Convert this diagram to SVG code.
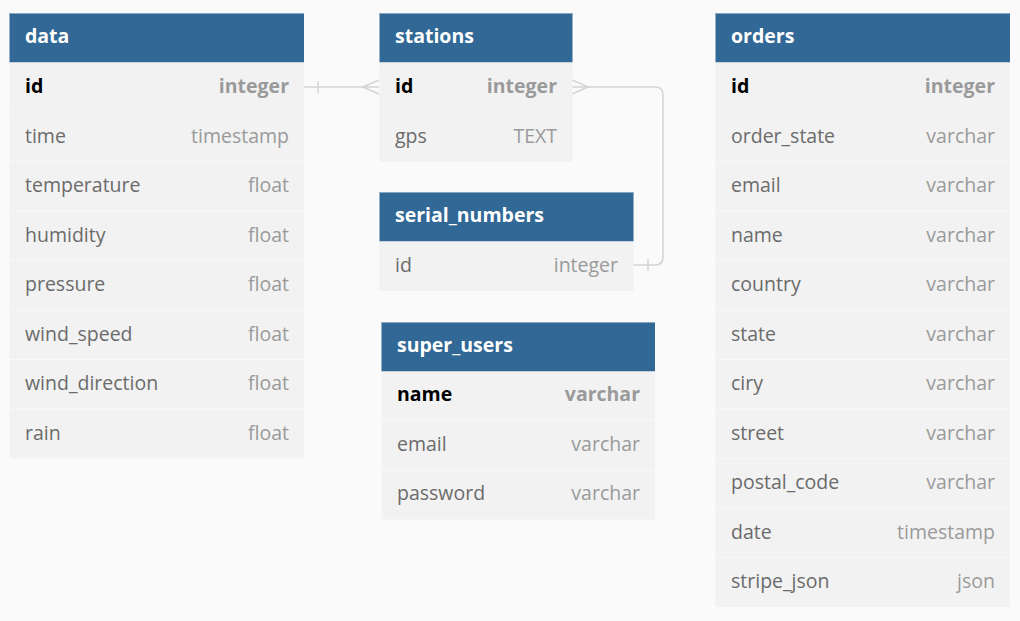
<svg xmlns="http://www.w3.org/2000/svg" width="1020" height="621" viewBox="0 0 1020 621">
<style>
.bg{fill:#fafafa}
.hd{fill:#316896}
.hl{stroke:#86a6c3;stroke-width:1}
.row{fill:#f2f2f2}
.sep{stroke:#f8f8f8;stroke-width:1}
.t{font-family:"Open Sans","Noto Sans","DejaVu Sans",sans-serif;font-size:19.5px}
.ht{fill:#ffffff;font-weight:bold}
.n{fill:#6b6b6b}
.nk{fill:#000000;font-weight:bold}
.ty{fill:#9a9a9a;text-anchor:end}
.tk{fill:#9a9a9a;font-weight:bold;text-anchor:end}
.c{fill:none;stroke:#d4d4d4;stroke-width:1.5}
</style>
<rect class="bg" x="0" y="0" width="1020" height="621"/>
<g id="connectors">
<path class="c" d="M304,87 L379,87"/>
<path class="c" d="M318,81 L318,93"/>
<path class="c" d="M379,80 L363,87 L379,94"/>
<path class="c" d="M572,87 L655,87 Q663,87 663,95 L663,257 Q663,265 655,265 L633,265"/>
<path class="c" d="M572,80 L588,87 L572,94"/>
<path class="c" d="M648,259 L648,271"/>
</g>
<g id="data" class="t">
<rect class="hd" x="9.5" y="13" width="294.5" height="49.5"/>
<line class="hl" x1="9.5" y1="13.5" x2="304" y2="13.5"/>
<text class="ht" x="25" y="43">data</text>
<rect class="row" x="9.5" y="62.5" width="294.5" height="396"/>
<line class="sep" x1="9.5" y1="112" x2="304" y2="112"/>
<line class="sep" x1="9.5" y1="161.5" x2="304" y2="161.5"/>
<line class="sep" x1="9.5" y1="211" x2="304" y2="211"/>
<line class="sep" x1="9.5" y1="260.5" x2="304" y2="260.5"/>
<line class="sep" x1="9.5" y1="310" x2="304" y2="310"/>
<line class="sep" x1="9.5" y1="359.5" x2="304" y2="359.5"/>
<line class="sep" x1="9.5" y1="409" x2="304" y2="409"/>
<text class="nk" x="25" y="93">id</text><text class="tk" x="289" y="93">integer</text>
<text class="n" x="25" y="142.5">time</text><text class="ty" x="289" y="142.5">timestamp</text>
<text class="n" x="25" y="192">temperature</text><text class="ty" x="289" y="192">float</text>
<text class="n" x="25" y="241.5">humidity</text><text class="ty" x="289" y="241.5">float</text>
<text class="n" x="25" y="291">pressure</text><text class="ty" x="289" y="291">float</text>
<text class="n" x="25" y="340.5">wind_speed</text><text class="ty" x="289" y="340.5">float</text>
<text class="n" x="25" y="390">wind_direction</text><text class="ty" x="289" y="390">float</text>
<text class="n" x="25" y="439.5">rain</text><text class="ty" x="289" y="439.5">float</text>
</g>
<g id="stations" class="t">
<rect class="hd" x="379.5" y="13" width="193" height="49.5"/>
<line class="hl" x1="379.5" y1="13.5" x2="572.5" y2="13.5"/>
<text class="ht" x="395" y="43">stations</text>
<rect class="row" x="379.5" y="62.5" width="193" height="99"/>
<line class="sep" x1="379.5" y1="112" x2="572.5" y2="112"/>
<text class="nk" x="395" y="93">id</text><text class="tk" x="557" y="93">integer</text>
<text class="n" x="395" y="142.5">gps</text><text class="ty" x="557" y="142.5">TEXT</text>
</g>
<g id="serial_numbers" class="t">
<rect class="hd" x="379.5" y="192" width="254" height="49.5"/>
<line class="hl" x1="379.5" y1="192.5" x2="633.5" y2="192.5"/>
<text class="ht" x="395" y="222">serial_numbers</text>
<rect class="row" x="379.5" y="241.5" width="254" height="49.5"/>
<text class="n" x="395" y="272">id</text><text class="ty" x="618" y="272">integer</text>
</g>
<g id="super_users" class="t">
<rect class="hd" x="381.5" y="322" width="273.5" height="49.5"/>
<line class="hl" x1="381.5" y1="322.5" x2="655" y2="322.5"/>
<text class="ht" x="397" y="352">super_users</text>
<rect class="row" x="381.5" y="371.5" width="273.5" height="148"/>
<line class="sep" x1="381.5" y1="420.5" x2="655" y2="420.5"/>
<line class="sep" x1="381.5" y1="470" x2="655" y2="470"/>
<text class="nk" x="397" y="400.5">name</text><text class="tk" x="640" y="400.5">varchar</text>
<text class="n" x="397" y="450.5">email</text><text class="ty" x="640" y="450.5">varchar</text>
<text class="n" x="397" y="499.5">password</text><text class="ty" x="640" y="499.5">varchar</text>
</g>
<g id="orders" class="t">
<rect class="hd" x="715.5" y="13" width="294.5" height="49.5"/>
<line class="hl" x1="715.5" y1="13.5" x2="1010" y2="13.5"/>
<text class="ht" x="731" y="43">orders</text>
<rect class="row" x="715.5" y="62.5" width="294.5" height="544.5"/>
<line class="sep" x1="715.5" y1="112" x2="1010" y2="112"/>
<line class="sep" x1="715.5" y1="161.5" x2="1010" y2="161.5"/>
<line class="sep" x1="715.5" y1="211" x2="1010" y2="211"/>
<line class="sep" x1="715.5" y1="260.5" x2="1010" y2="260.5"/>
<line class="sep" x1="715.5" y1="310" x2="1010" y2="310"/>
<line class="sep" x1="715.5" y1="359.5" x2="1010" y2="359.5"/>
<line class="sep" x1="715.5" y1="409" x2="1010" y2="409"/>
<line class="sep" x1="715.5" y1="458.5" x2="1010" y2="458.5"/>
<line class="sep" x1="715.5" y1="508" x2="1010" y2="508"/>
<line class="sep" x1="715.5" y1="557.5" x2="1010" y2="557.5"/>
<text class="nk" x="731" y="93">id</text><text class="tk" x="995" y="93">integer</text>
<text class="n" x="731" y="142.5">order_state</text><text class="ty" x="995" y="142.5">varchar</text>
<text class="n" x="731" y="192">email</text><text class="ty" x="995" y="192">varchar</text>
<text class="n" x="731" y="241.5">name</text><text class="ty" x="995" y="241.5">varchar</text>
<text class="n" x="731" y="291">country</text><text class="ty" x="995" y="291">varchar</text>
<text class="n" x="731" y="340.5">state</text><text class="ty" x="995" y="340.5">varchar</text>
<text class="n" x="731" y="390">ciry</text><text class="ty" x="995" y="390">varchar</text>
<text class="n" x="731" y="439.5">street</text><text class="ty" x="995" y="439.5">varchar</text>
<text class="n" x="731" y="489">postal_code</text><text class="ty" x="995" y="489">varchar</text>
<text class="n" x="731" y="538.5">date</text><text class="ty" x="995" y="538.5">timestamp</text>
<text class="n" x="731" y="588">stripe_json</text><text class="ty" x="995" y="588">json</text>
</g>
</svg>
